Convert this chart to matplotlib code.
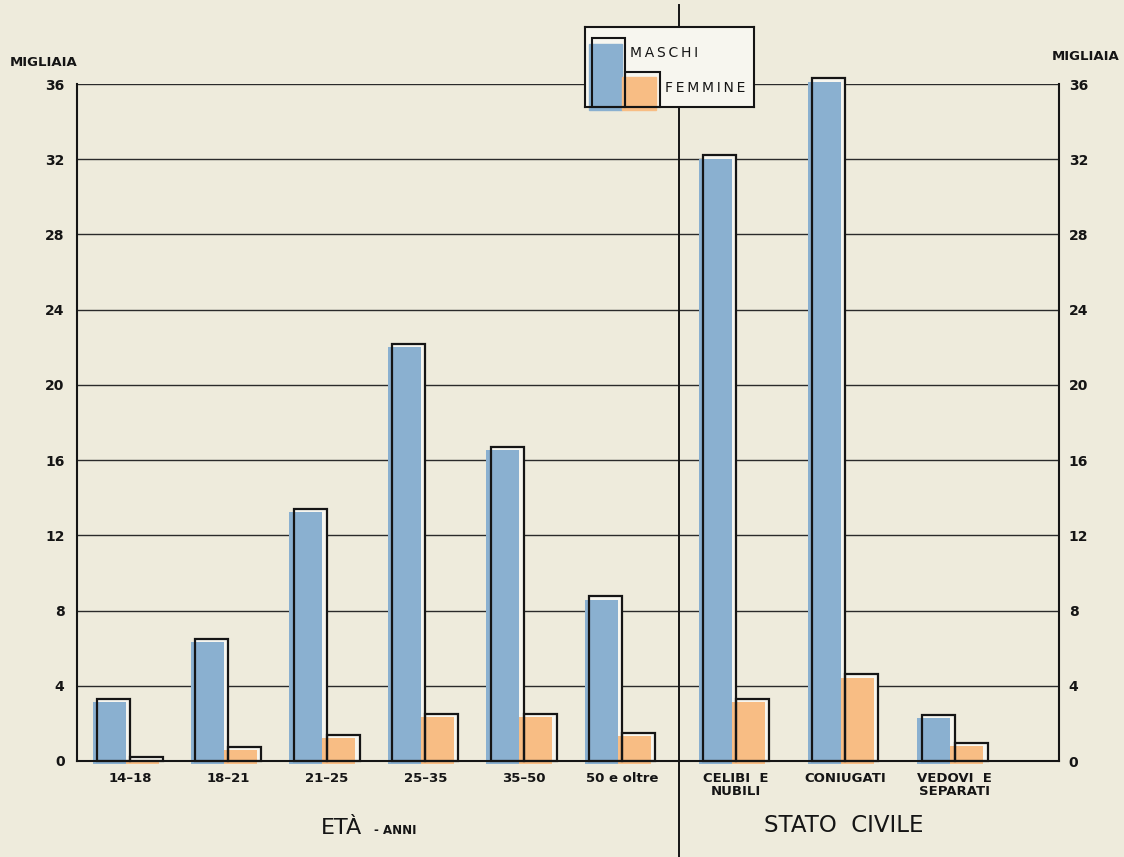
import numpy as np
import matplotlib
matplotlib.use("Agg")
import matplotlib.pyplot as plt
from matplotlib.patches import Rectangle

# ---- data ----
categorie_eta = ["14–18", "18–21", "21–25", "25–35", "35–50", "50 e oltre"]
categorie_stato = ["CELIBI  E\nNUBILI", "CONIUGATI", "VEDOVI  E\nSEPARATI"]
maschi_eta = [3.3, 6.5, 13.4, 22.2, 16.7, 8.75]
femmine_eta = [0.2, 0.75, 1.4, 2.5, 2.5, 1.5]
maschi_stato = [32.2, 36.3, 2.45]
femmine_stato = [3.3, 4.6, 0.95]
y_ticks = [0, 4, 8, 12, 16, 20, 24, 28, 32, 36]
legenda = ["MASCHI", "FEMMINE"]

# ---- style ----
PAPER = "#eeebdc"
LIGHT = "#f7f6ef"
BLUE = "#8ab0d0"
ORANGE = "#f8bd84"
INK = "#151515"
TS = "\u2009"

def spaced(s):
    return TS.join(s)

fig = plt.figure(figsize=(11.24, 8.57), dpi=100, facecolor=PAPER)
ax = fig.add_axes([77/1124, 1-761/857, 982/1124, 677/857])
ax.set_facecolor(PAPER)

pos_eta = np.arange(len(categorie_eta), dtype=float)
pos_stato = 6.16 + 1.11*np.arange(len(categorie_stato))
pos = np.concatenate([pos_eta, pos_stato])
maschi = maschi_eta + maschi_stato
femmine = femmine_eta + femmine_stato
labels = categorie_eta + categorie_stato

ax.set_xlim(-0.539, 9.441)
ax.set_ylim(0, 36)

for y in y_ticks[1:]:
    ax.axhline(y, color="#2a2a2a", lw=1.0, zorder=1)

w = 0.335
dx = 0.045
dy = 0.17

def draw_bar(xl, val, col):
    ax.bar(xl, val, width=w, align="edge", color=LIGHT, edgecolor="none", zorder=2, clip_on=False)
    ax.bar(xl - dx, val, bottom=-dy, width=w, align="edge", color=col, edgecolor="none", zorder=3, clip_on=False)
    ax.bar(xl, val, width=w, align="edge", fill=False, edgecolor=INK, lw=1.6, zorder=4, clip_on=False)

for x, m, f in zip(pos, maschi, femmine):
    draw_bar(x - w, m, BLUE)
    draw_bar(x, f, ORANGE)

# divider
xd = 5.58
ax.axvline(xd, ymin=-0.16, ymax=1.117, color=INK, lw=1.4, clip_on=False, zorder=1)

for side in ["left", "right", "bottom"]:
    ax.spines[side].set_color(INK)
    ax.spines[side].set_linewidth(1.5)
    ax.spines[side].set_zorder(5)
ax.spines["top"].set_visible(False)

ax.set_yticks(y_ticks)
ax.set_yticklabels([str(v) for v in y_ticks], fontsize=10, fontweight="bold", color=INK)
ax.tick_params(axis="y", length=0, pad=9)
ax.set_xticks(pos)
ax.set_xticklabels(labels, fontsize=9.5, fontweight="bold", color=INK, linespacing=1.0)
ax.tick_params(axis="x", length=0, pad=8)

ax2 = ax.twinx()
ax2.set_ylim(0, 36)
ax2.set_yticks(y_ticks)
ax2.set_yticklabels([str(v) for v in y_ticks], fontsize=10, fontweight="bold", color=INK)
ax2.tick_params(axis="y", length=0, pad=7)
for s in ax2.spines.values():
    s.set_visible(False)

fig.text(10/1124, 1-62/857, "MIGLIAIA", fontsize=9.5, fontweight="bold", color=INK, va="center", ha="left")
fig.text(1052/1124, 1-57/857, "MIGLIAIA", fontsize=9.5, fontweight="bold", color=INK, va="center", ha="left")

fig.text(321/1124, 1-828/857, "ETÀ", fontsize=16, color=INK, va="center", ha="left")
fig.text(374/1124, 1-830/857, "- ANNI", fontsize=8.5, fontweight="bold", color=INK, va="center", ha="left")
fig.text(844/1124, 1-826/857, "STATO  CIVILE", fontsize=16.5, color=INK, va="center", ha="center")

# legend box
lg = fig.add_axes([585/1124, 1-107/857, 169/1124, 80/857])
lg.set_xlim(0, 169)
lg.set_ylim(0, 80)
lg.set_facecolor(LIGHT)
lg.set_xticks([]); lg.set_yticks([])
for s in lg.spines.values():
    s.set_color(INK); s.set_linewidth(1.5)
lg.add_patch(Rectangle((4, -3), 33, 66, color=BLUE, clip_on=False, zorder=2))
lg.add_patch(Rectangle((7, 0), 33, 69, fill=False, ec=INK, lw=1.5, clip_on=False, zorder=3))
lg.add_patch(Rectangle((37, -3), 34, 33, color=ORANGE, clip_on=False, zorder=2))
lg.add_patch(Rectangle((40, 0), 35, 35, fill=False, ec=INK, lw=1.5, clip_on=False, zorder=3))
lg.text(45, 54, spaced(legenda[0]), fontsize=10, color=INK, va="center", ha="left")
lg.text(80, 19, spaced(legenda[1]), fontsize=10, color=INK, va="center", ha="left")

fig.savefig("out.png", dpi=100, facecolor=PAPER)
